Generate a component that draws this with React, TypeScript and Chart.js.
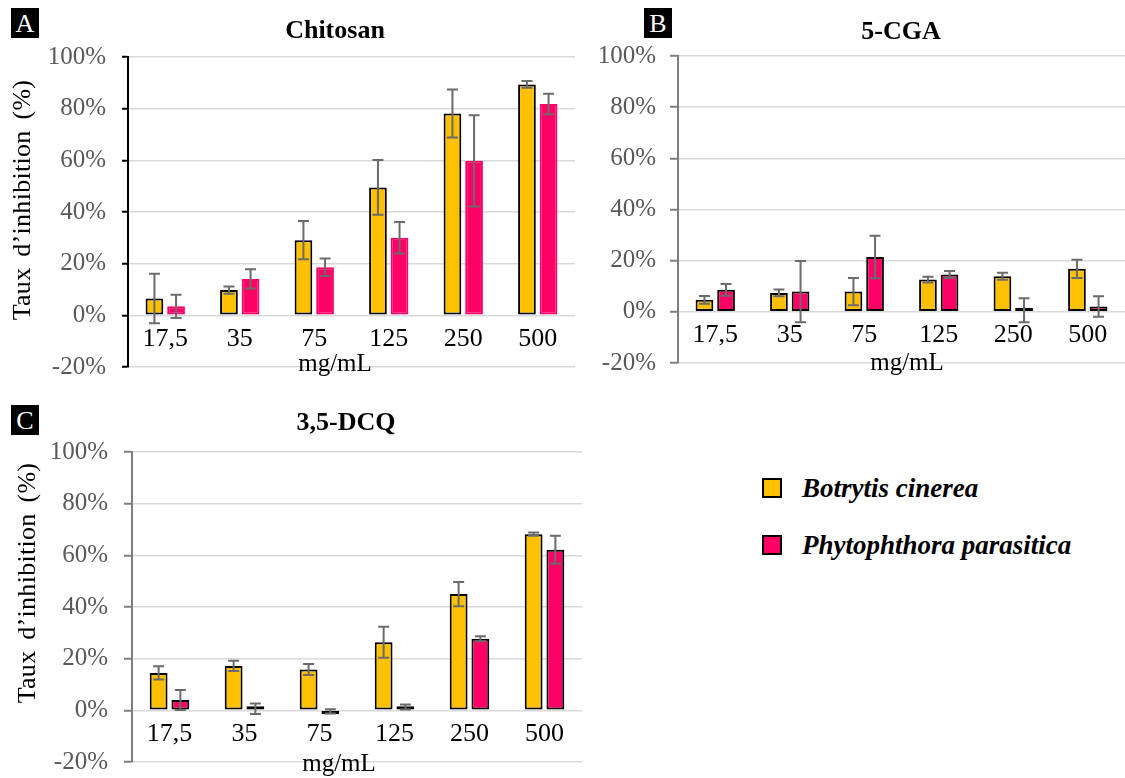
import React, { useEffect, useRef } from 'react';
import { Chart, registerables } from 'chart.js';

Chart.register(...registerables);

// ---------- data ----------
const categories = ['17,5', '35', '75', '125', '250', '500'];
const seriesNames = ['Botrytis cinerea', 'Phytophthora parasitica'];
const yMin = -20;
const yMax = 100;
const yStep = 20;

const chitosanBotrytis = [6.5, 9.8, 29.1, 49.5, 78.1, 89.4];
const chitosanBotrytisErr = [9.6, 1.4, 7.4, 10.6, 9.3, 1.3];
const chitosanPhyto = [3.5, 14.1, 18.6, 30.0, 59.8, 81.8];
const chitosanPhytoErr = [4.5, 3.7, 3.4, 6.1, 17.7, 4.0];

const cgaBotrytis = [4.7, 7.4, 7.9, 12.6, 13.9, 16.8];
const cgaBotrytisErr = [1.5, 1.3, 5.3, 1.1, 1.4, 3.6];
const cgaPhyto = [8.6, 7.9, 21.4, 14.6, 0.6, 2.1];
const cgaPhytoErr = [2.3, 12.0, 8.3, 1.4, 4.7, 4.0];

const dcqBotrytis = [14.5, 17.2, 15.8, 26.4, 45.0, 68.2];
const dcqBotrytisErr = [2.6, 2.0, 2.1, 6.0, 4.7, 0.6];
const dcqPhyto = [4.0, 0.6, -0.4, 1.3, 27.7, 62.2];
const dcqPhytoErr = [3.9, 2.0, 0.8, 1.0, 1.0, 5.4];

// ---------- style ----------
const YELLOW = '#FFC000';
const PINK = '#FF0066';
const SERIF = '"Liberation Serif", "Times New Roman", serif';

const errorBarPlugin = {
  id: 'errorBars',
  afterDatasetsDraw(chart: any) {
    const ctx = chart.ctx;
    const yScale = chart.scales.y;
    chart.data.datasets.forEach((ds: any, di: number) => {
      const errs = ds.errors;
      if (!errs) return;
      const meta = chart.getDatasetMeta(di);
      meta.data.forEach((bar: any, i: number) => {
        const v = ds.data[i];
        const e = errs[i];
        const yTop = yScale.getPixelForValue(v + e);
        const yBot = yScale.getPixelForValue(v - e);
        const x = bar.x;
        const cap = 5.5;
        ctx.save();
        ctx.strokeStyle = '#6b6b6b';
        ctx.lineWidth = 2;
        ctx.beginPath();
        ctx.moveTo(x, yTop);
        ctx.lineTo(x, yBot);
        ctx.moveTo(x - cap, yTop);
        ctx.lineTo(x + cap, yTop);
        ctx.moveTo(x - cap, yBot);
        ctx.lineTo(x + cap, yBot);
        ctx.stroke();
        ctx.restore();
      });
    });
  },
};

type PanelProps = {
  left: number;
  top: number;
  w: number;
  h: number;
  axisW: number;
  pad: { left: number; right: number; top: number; bottom: number };
  axisColor: string;
  tickLen: number;
  tickPad: number;
  pinkBorder: string;
  botrytis: number[];
  botrytisErr: number[];
  phyto: number[];
  phytoErr: number[];
};

function Panel(p: PanelProps) {
  const ref = useRef<HTMLCanvasElement>(null);
  useEffect(() => {
    if (!ref.current) return;
    const chart = new Chart(ref.current, {
      type: 'bar',
      data: {
        labels: categories,
        datasets: [
          {
            label: seriesNames[0],
            data: p.botrytis,
            errors: p.botrytisErr,
            backgroundColor: YELLOW,
            borderColor: '#000000',
            borderWidth: 2,
            borderSkipped: false,
            minBarLength: 4,
            categoryPercentage: 0.58,
            barPercentage: 0.82,
          } as any,
          {
            label: seriesNames[1],
            data: p.phyto,
            errors: p.phytoErr,
            backgroundColor: PINK,
            borderColor: p.pinkBorder,
            borderWidth: 2,
            borderSkipped: false,
            minBarLength: 4,
            categoryPercentage: 0.58,
            barPercentage: 0.82,
          } as any,
        ],
      },
      options: {
        animation: false,
        responsive: true,
        maintainAspectRatio: false,
        layout: { padding: p.pad },
        plugins: {
          legend: { display: false },
          title: { display: false },
          tooltip: { enabled: false },
        },
        scales: {
          x: {
            position: { y: 0 } as any,
            grid: { display: false, drawTicks: false },
            border: { display: false },
            ticks: {
              color: '#000000',
              font: { family: SERIF, size: 26 },
              padding: 8,
              maxRotation: 0,
            },
          },
          y: {
            min: yMin,
            max: yMax,
            afterFit: (scale: any) => {
              scale.width = p.axisW;
              scale.paddingTop = 0;
              scale.paddingBottom = 0;
            },
            ticks: {
              stepSize: yStep,
              color: '#595959',
              font: { family: SERIF, size: 25 },
              padding: p.tickPad,
              callback: (v: any) => `${v}%`,
            },
            grid: {
              color: '#d9d9d9',
              lineWidth: 1.5,
              tickColor: p.axisColor,
              tickLength: p.tickLen,
              tickWidth: 2,
            },
            border: { display: true, color: p.axisColor, width: 2 },
          },
        },
      },
      plugins: [errorBarPlugin],
    } as any);
    return () => chart.destroy();
  }, []);
  return (
    <div style={{ position: 'absolute', left: p.left, top: p.top, width: p.w, height: p.h }}>
      <canvas ref={ref} />
    </div>
  );
}

function Label(props: { text: string; cx: number; cy: number; size: number; bold?: boolean; italic?: boolean }) {
  const W = 400;
  return (
    <div
      style={{
        position: 'absolute',
        left: props.cx - W / 2,
        top: props.cy - props.size / 2,
        width: W,
        height: props.size,
        lineHeight: `${props.size}px`,
        textAlign: 'center',
        fontFamily: SERIF,
        fontSize: props.size,
        fontWeight: props.bold ? 'bold' : 'normal',
        fontStyle: props.italic ? 'italic' : 'normal',
        color: '#000',
        whiteSpace: 'nowrap',
      }}
    >
      {props.text}
    </div>
  );
}

function YTitle(props: { cx: number; cy: number }) {
  const W = 300;
  const H = 30;
  return (
    <div
      style={{
        position: 'absolute',
        left: props.cx - W / 2,
        top: props.cy - H / 2,
        width: W,
        height: H,
        lineHeight: `${H}px`,
        textAlign: 'center',
        fontFamily: SERIF,
        fontSize: 26,
        letterSpacing: '0.3px',
        wordSpacing: '4px',
        color: '#000',
        transform: 'rotate(-90deg)',
        whiteSpace: 'nowrap',
      }}
    >
      Taux d’inhibition (%)
    </div>
  );
}

function Letter(props: { text: string; x: number; y: number }) {
  return (
    <div
      style={{
        position: 'absolute',
        left: props.x,
        top: props.y,
        width: 28,
        height: 30,
        background: '#000',
        color: '#fff',
        fontFamily: SERIF,
        fontSize: 26,
        lineHeight: '31px',
        textAlign: 'center',
      }}
    >
      {props.text}
    </div>
  );
}

function LegendItem(props: { color: string; text: string; y: number }) {
  return (
    <>
      <div
        style={{
          position: 'absolute',
          left: 762,
          top: props.y - 10,
          width: 16,
          height: 16,
          background: props.color,
          border: '2px solid #000',
        }}
      />
      <div
        style={{
          position: 'absolute',
          left: 802,
          top: props.y - 15,
          height: 30,
          lineHeight: '30px',
          fontFamily: SERIF,
          fontSize: 27,
          fontWeight: 'bold',
          fontStyle: 'italic',
          color: '#000',
          whiteSpace: 'nowrap',
        }}
      >
        {props.text}
      </div>
    </>
  );
}

export default function App() {
  useEffect(() => {
    document.body.style.margin = '0';
  }, []);
  return (
    <div style={{ position: 'fixed', left: 0, top: 0, width: 1125, height: 778, background: '#fff', overflow: 'hidden' }}>
      <Panel
        left={0}
        top={0}
        w={590}
        h={385}
        axisW={128}
        pad={{ left: 0, right: 15, top: 57, bottom: 18 }}
        axisColor="#000000"
        tickLen={6}
        tickPad={16}
        pinkBorder={PINK}
        botrytis={chitosanBotrytis}
        botrytisErr={chitosanBotrytisErr}
        phyto={chitosanPhyto}
        phytoErr={chitosanPhytoErr}
      />
      <Panel
        left={590}
        top={0}
        w={535}
        h={385}
        axisW={88}
        pad={{ left: 0, right: 0, top: 56, bottom: 22 }}
        axisColor="#7f7f7f"
        tickLen={8}
        tickPad={14}
        pinkBorder="#000000"
        botrytis={cgaBotrytis}
        botrytisErr={cgaBotrytisErr}
        phyto={cgaPhyto}
        phytoErr={cgaPhytoErr}
      />
      <Panel
        left={0}
        top={395}
        w={590}
        h={383}
        axisW={132}
        pad={{ left: 0, right: 8, top: 57, bottom: 16 }}
        axisColor="#7f7f7f"
        tickLen={8}
        tickPad={16}
        pinkBorder="#000000"
        botrytis={dcqBotrytis}
        botrytisErr={dcqBotrytisErr}
        phyto={dcqPhyto}
        phytoErr={dcqPhytoErr}
      />

      <Letter text="A" x={11} y={8} />
      <Letter text="B" x={644} y={8} />
      <Letter text="C" x={11} y={405} />

      <Label text="Chitosan" cx={335} cy={30} size={26} bold />
      <Label text="5-CGA" cx={901} cy={31} size={26} bold />
      <Label text="3,5-DCQ" cx={346} cy={422} size={26} bold />

      <Label text="mg/mL" cx={335} cy={362} size={25} />
      <Label text="mg/mL" cx={907} cy={361} size={25} />
      <Label text="mg/mL" cx={339} cy={762} size={25} />

      <YTitle cx={22} cy={200} />
      <YTitle cx={27} cy={583} />

      <LegendItem color={YELLOW} text={seriesNames[0]} y={488} />
      <LegendItem color={PINK} text={seriesNames[1]} y={545} />
    </div>
  );
}
